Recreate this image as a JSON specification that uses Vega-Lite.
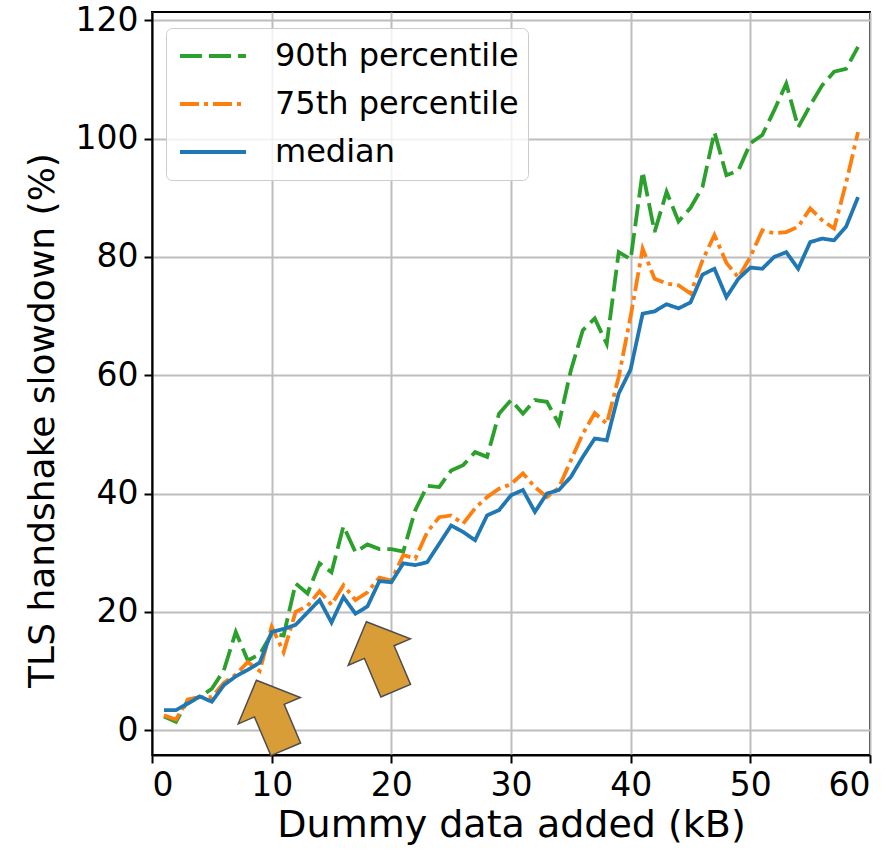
{
  "$schema": "https://vega.github.io/schema/vega-lite/v6.json",
  "width": 718,
  "height": 743,
  "autosize": {"type": "none"},
  "padding": {"left": 152, "top": 12, "right": 25, "bottom": 106},
  "background": "white",
  "config": {
    "font": "DejaVu Sans",
    "view": {"stroke": "black", "strokeWidth": 2},
    "axis": {
      "domainColor": "black", "domainWidth": 2,
      "tickColor": "black", "tickWidth": 2, "tickSize": 8,
      "gridColor": "#bdbdbd", "gridWidth": 2,
      "labelFontSize": 33,
      "labelColor": "black", "titleColor": "black",
      "titleFontWeight": "normal", "labelPadding": 6
    }
  },
  "datasets": {
    "lines": [
      {"series":"90th percentile","kb":1,"slowdown":2.3},{"series":"90th percentile","kb":2,"slowdown":1.4},{"series":"90th percentile","kb":3,"slowdown":5.1},{"series":"90th percentile","kb":4,"slowdown":5.6},{"series":"90th percentile","kb":5,"slowdown":7.0},{"series":"90th percentile","kb":6,"slowdown":10.1},{"series":"90th percentile","kb":7,"slowdown":16.6},{"series":"90th percentile","kb":8,"slowdown":11.8},{"series":"90th percentile","kb":9,"slowdown":12.8},{"series":"90th percentile","kb":10,"slowdown":16.3},
      {"series":"90th percentile","kb":11,"slowdown":16.0},{"series":"90th percentile","kb":12,"slowdown":24.8},{"series":"90th percentile","kb":13,"slowdown":23.1},{"series":"90th percentile","kb":14,"slowdown":28.2},{"series":"90th percentile","kb":15,"slowdown":26.7},{"series":"90th percentile","kb":16,"slowdown":34.5},{"series":"90th percentile","kb":17,"slowdown":30.1},{"series":"90th percentile","kb":18,"slowdown":31.4},{"series":"90th percentile","kb":19,"slowdown":30.6},{"series":"90th percentile","kb":20,"slowdown":30.6},
      {"series":"90th percentile","kb":21,"slowdown":30.2},{"series":"90th percentile","kb":22,"slowdown":37.2},{"series":"90th percentile","kb":23,"slowdown":41.3},{"series":"90th percentile","kb":24,"slowdown":41.1},{"series":"90th percentile","kb":25,"slowdown":43.9},{"series":"90th percentile","kb":26,"slowdown":44.8},{"series":"90th percentile","kb":27,"slowdown":47.0},{"series":"90th percentile","kb":28,"slowdown":46.2},{"series":"90th percentile","kb":29,"slowdown":53.5},{"series":"90th percentile","kb":30,"slowdown":55.8},
      {"series":"90th percentile","kb":31,"slowdown":53.5},{"series":"90th percentile","kb":32,"slowdown":55.8},{"series":"90th percentile","kb":33,"slowdown":55.5},{"series":"90th percentile","kb":34,"slowdown":51.8},{"series":"90th percentile","kb":35,"slowdown":60.8},{"series":"90th percentile","kb":36,"slowdown":67.6},{"series":"90th percentile","kb":37,"slowdown":69.6},{"series":"90th percentile","kb":38,"slowdown":65.3},{"series":"90th percentile","kb":39,"slowdown":80.8},{"series":"90th percentile","kb":40,"slowdown":79.6},
      {"series":"90th percentile","kb":41,"slowdown":94.4},{"series":"90th percentile","kb":42,"slowdown":84.2},{"series":"90th percentile","kb":43,"slowdown":91.0},{"series":"90th percentile","kb":44,"slowdown":86.0},{"series":"90th percentile","kb":45,"slowdown":88.3},{"series":"90th percentile","kb":46,"slowdown":91.8},{"series":"90th percentile","kb":47,"slowdown":101.1},{"series":"90th percentile","kb":48,"slowdown":93.8},{"series":"90th percentile","kb":49,"slowdown":94.6},{"series":"90th percentile","kb":50,"slowdown":99.2},
      {"series":"90th percentile","kb":51,"slowdown":100.6},{"series":"90th percentile","kb":52,"slowdown":104.8},{"series":"90th percentile","kb":53,"slowdown":109.3},{"series":"90th percentile","kb":54,"slowdown":101.9},{"series":"90th percentile","kb":55,"slowdown":105.6},{"series":"90th percentile","kb":56,"slowdown":109.0},{"series":"90th percentile","kb":57,"slowdown":111.3},{"series":"90th percentile","kb":58,"slowdown":111.8},{"series":"90th percentile","kb":59,"slowdown":115.5},
      {"series":"75th percentile","kb":1,"slowdown":2.5},{"series":"75th percentile","kb":2,"slowdown":1.8},{"series":"75th percentile","kb":3,"slowdown":5.2},{"series":"75th percentile","kb":4,"slowdown":5.6},{"series":"75th percentile","kb":5,"slowdown":5.6},{"series":"75th percentile","kb":6,"slowdown":8.0},{"series":"75th percentile","kb":7,"slowdown":9.4},{"series":"75th percentile","kb":8,"slowdown":11.5},{"series":"75th percentile","kb":9,"slowdown":10.0},{"series":"75th percentile","kb":10,"slowdown":17.5},
      {"series":"75th percentile","kb":11,"slowdown":13.2},{"series":"75th percentile","kb":12,"slowdown":20.0},{"series":"75th percentile","kb":13,"slowdown":21.0},{"series":"75th percentile","kb":14,"slowdown":23.5},{"series":"75th percentile","kb":15,"slowdown":21.2},{"series":"75th percentile","kb":16,"slowdown":24.5},{"series":"75th percentile","kb":17,"slowdown":22.0},{"series":"75th percentile","kb":18,"slowdown":23.3},{"series":"75th percentile","kb":19,"slowdown":25.8},{"series":"75th percentile","kb":20,"slowdown":25.3},
      {"series":"75th percentile","kb":21,"slowdown":29.6},{"series":"75th percentile","kb":22,"slowdown":29.0},{"series":"75th percentile","kb":23,"slowdown":33.5},{"series":"75th percentile","kb":24,"slowdown":36.0},{"series":"75th percentile","kb":25,"slowdown":36.3},{"series":"75th percentile","kb":26,"slowdown":34.9},{"series":"75th percentile","kb":27,"slowdown":37.5},{"series":"75th percentile","kb":28,"slowdown":39.4},{"series":"75th percentile","kb":29,"slowdown":40.8},{"series":"75th percentile","kb":30,"slowdown":41.6},
      {"series":"75th percentile","kb":31,"slowdown":43.4},{"series":"75th percentile","kb":32,"slowdown":41.1},{"series":"75th percentile","kb":33,"slowdown":39.4},{"series":"75th percentile","kb":34,"slowdown":41.0},{"series":"75th percentile","kb":35,"slowdown":45.6},{"series":"75th percentile","kb":36,"slowdown":50.1},{"series":"75th percentile","kb":37,"slowdown":53.6},{"series":"75th percentile","kb":38,"slowdown":51.8},{"series":"75th percentile","kb":39,"slowdown":59.7},{"series":"75th percentile","kb":40,"slowdown":70.0},
      {"series":"75th percentile","kb":41,"slowdown":81.4},{"series":"75th percentile","kb":42,"slowdown":76.3},{"series":"75th percentile","kb":43,"slowdown":75.5},{"series":"75th percentile","kb":44,"slowdown":75.2},{"series":"75th percentile","kb":45,"slowdown":73.8},{"series":"75th percentile","kb":46,"slowdown":79.4},{"series":"75th percentile","kb":47,"slowdown":83.7},{"series":"75th percentile","kb":48,"slowdown":79.0},{"series":"75th percentile","kb":49,"slowdown":76.5},{"series":"75th percentile","kb":50,"slowdown":80.0},
      {"series":"75th percentile","kb":51,"slowdown":84.5},{"series":"75th percentile","kb":52,"slowdown":84.0},{"series":"75th percentile","kb":53,"slowdown":84.2},{"series":"75th percentile","kb":54,"slowdown":85.1},{"series":"75th percentile","kb":55,"slowdown":88.2},{"series":"75th percentile","kb":56,"slowdown":86.2},{"series":"75th percentile","kb":57,"slowdown":84.8},{"series":"75th percentile","kb":58,"slowdown":92.5},{"series":"75th percentile","kb":59,"slowdown":101.1},
      {"series":"median","kb":1,"slowdown":3.4},{"series":"median","kb":2,"slowdown":3.4},{"series":"median","kb":3,"slowdown":4.5},{"series":"median","kb":4,"slowdown":5.7},{"series":"median","kb":5,"slowdown":4.8},{"series":"median","kb":6,"slowdown":7.6},{"series":"median","kb":7,"slowdown":9.1},{"series":"median","kb":8,"slowdown":10.2},{"series":"median","kb":9,"slowdown":11.4},{"series":"median","kb":10,"slowdown":16.6},
      {"series":"median","kb":11,"slowdown":17.1},{"series":"median","kb":12,"slowdown":17.8},{"series":"median","kb":13,"slowdown":19.9},{"series":"median","kb":14,"slowdown":22.0},{"series":"median","kb":15,"slowdown":18.2},{"series":"median","kb":16,"slowdown":22.5},{"series":"median","kb":17,"slowdown":19.7},{"series":"median","kb":18,"slowdown":20.9},{"series":"median","kb":19,"slowdown":25.2},{"series":"median","kb":20,"slowdown":25.0},
      {"series":"median","kb":21,"slowdown":28.2},{"series":"median","kb":22,"slowdown":27.9},{"series":"median","kb":23,"slowdown":28.4},{"series":"median","kb":24,"slowdown":31.5},{"series":"median","kb":25,"slowdown":34.6},{"series":"median","kb":26,"slowdown":33.5},{"series":"median","kb":27,"slowdown":32.1},{"series":"median","kb":28,"slowdown":36.3},{"series":"median","kb":29,"slowdown":37.2},{"series":"median","kb":30,"slowdown":39.7},
      {"series":"median","kb":31,"slowdown":40.6},{"series":"median","kb":32,"slowdown":36.9},{"series":"median","kb":33,"slowdown":40.0},{"series":"median","kb":34,"slowdown":40.6},{"series":"median","kb":35,"slowdown":42.8},{"series":"median","kb":36,"slowdown":46.2},{"series":"median","kb":37,"slowdown":49.3},{"series":"median","kb":38,"slowdown":49.0},{"series":"median","kb":39,"slowdown":56.9},{"series":"median","kb":40,"slowdown":61.0},
      {"series":"median","kb":41,"slowdown":70.4},{"series":"median","kb":42,"slowdown":70.8},{"series":"median","kb":43,"slowdown":72.0},{"series":"median","kb":44,"slowdown":71.3},{"series":"median","kb":45,"slowdown":72.3},{"series":"median","kb":46,"slowdown":77.0},{"series":"median","kb":47,"slowdown":78.0},{"series":"median","kb":48,"slowdown":73.2},{"series":"median","kb":49,"slowdown":76.3},{"series":"median","kb":50,"slowdown":78.2},
      {"series":"median","kb":51,"slowdown":78.0},{"series":"median","kb":52,"slowdown":80.0},{"series":"median","kb":53,"slowdown":80.8},{"series":"median","kb":54,"slowdown":78.0},{"series":"median","kb":55,"slowdown":82.5},{"series":"median","kb":56,"slowdown":83.1},{"series":"median","kb":57,"slowdown":82.8},{"series":"median","kb":58,"slowdown":85.1},{"series":"median","kb":59,"slowdown":90.1}
    ],
    "arrows": [
      {"kb": 9.95, "slowdown": 2.6},
      {"kb": 19.14, "slowdown": 12.5}
    ]
  },
  "layer": [
    {
      "data": {"name": "lines"},
      "mark": {"type": "line", "strokeWidth": 3.8},
      "encoding": {
        "x": {"field": "kb", "type": "quantitative",
              "scale": {"domain": [0, 60], "nice": false},
              "axis": {"values": [0, 10, 20, 30, 40, 50, 60], "title": "Dummy data added (kB)", "titleFontSize": 38, "titlePadding": 4}},
        "y": {"field": "slowdown", "type": "quantitative",
              "scale": {"domain": [-4.2, 121.4], "nice": false, "zero": false},
              "axis": {"values": [0, 20, 40, 60, 80, 100, 120], "title": "TLS handshake slowdown (%)", "titleFontSize": 36, "titlePadding": 14, "titleY": 408}},
        "color": {"field": "series", "type": "nominal",
                  "scale": {"domain": ["90th percentile", "75th percentile", "median"], "range": ["#2ca02c", "#ff7f0e", "#1f77b4"]},
                  "legend": {"orient": "none", "legendX": 14, "legendY": 16, "title": null,
                             "symbolType": "stroke", "symbolSize": 4356, "symbolStrokeWidth": 3.8,
                             "labelFontSize": 32, "labelOffset": 27, "labelLimit": 500, "padding": 9, "symbolOffset": 3,
                             "fillColor": "rgba(255,255,255,0.8)", "strokeColor": "#cccccc", "cornerRadius": 6,
                             "clipHeight": 38, "rowPadding": 10, "labelColor": "black"}},
        "strokeDash": {"field": "series", "type": "nominal",
                       "scale": {"domain": ["90th percentile", "75th percentile", "median"], "range": [[22, 7], [19, 5, 4, 5], [1, 0]]},
                       "legend": {"orient": "none", "legendX": 14, "legendY": 16, "title": null,
                             "symbolType": "stroke", "symbolSize": 4356, "symbolStrokeWidth": 3.8,
                             "labelFontSize": 32, "labelOffset": 27, "labelLimit": 500, "padding": 9, "symbolOffset": 3,
                             "fillColor": "rgba(255,255,255,0.8)", "strokeColor": "#cccccc", "cornerRadius": 6,
                             "clipHeight": 38, "rowPadding": 10, "labelColor": "black"}}
      }
    },
    {
      "data": {"name": "arrows"},
      "mark": {"type": "point", "shape": "M0,-1L0.9,-0.12L0.43,-0.12L0.43,1L-0.43,1L-0.43,-0.12L-0.9,-0.12Z",
               "size": 5625, "filled": true, "fill": "#d99d38", "stroke": "#4d4d4d", "strokeWidth": 1.5,
               "angle": -23, "opacity": 1},
      "encoding": {
        "x": {"field": "kb", "type": "quantitative"},
        "y": {"field": "slowdown", "type": "quantitative"}
      }
    }
  ]
}
